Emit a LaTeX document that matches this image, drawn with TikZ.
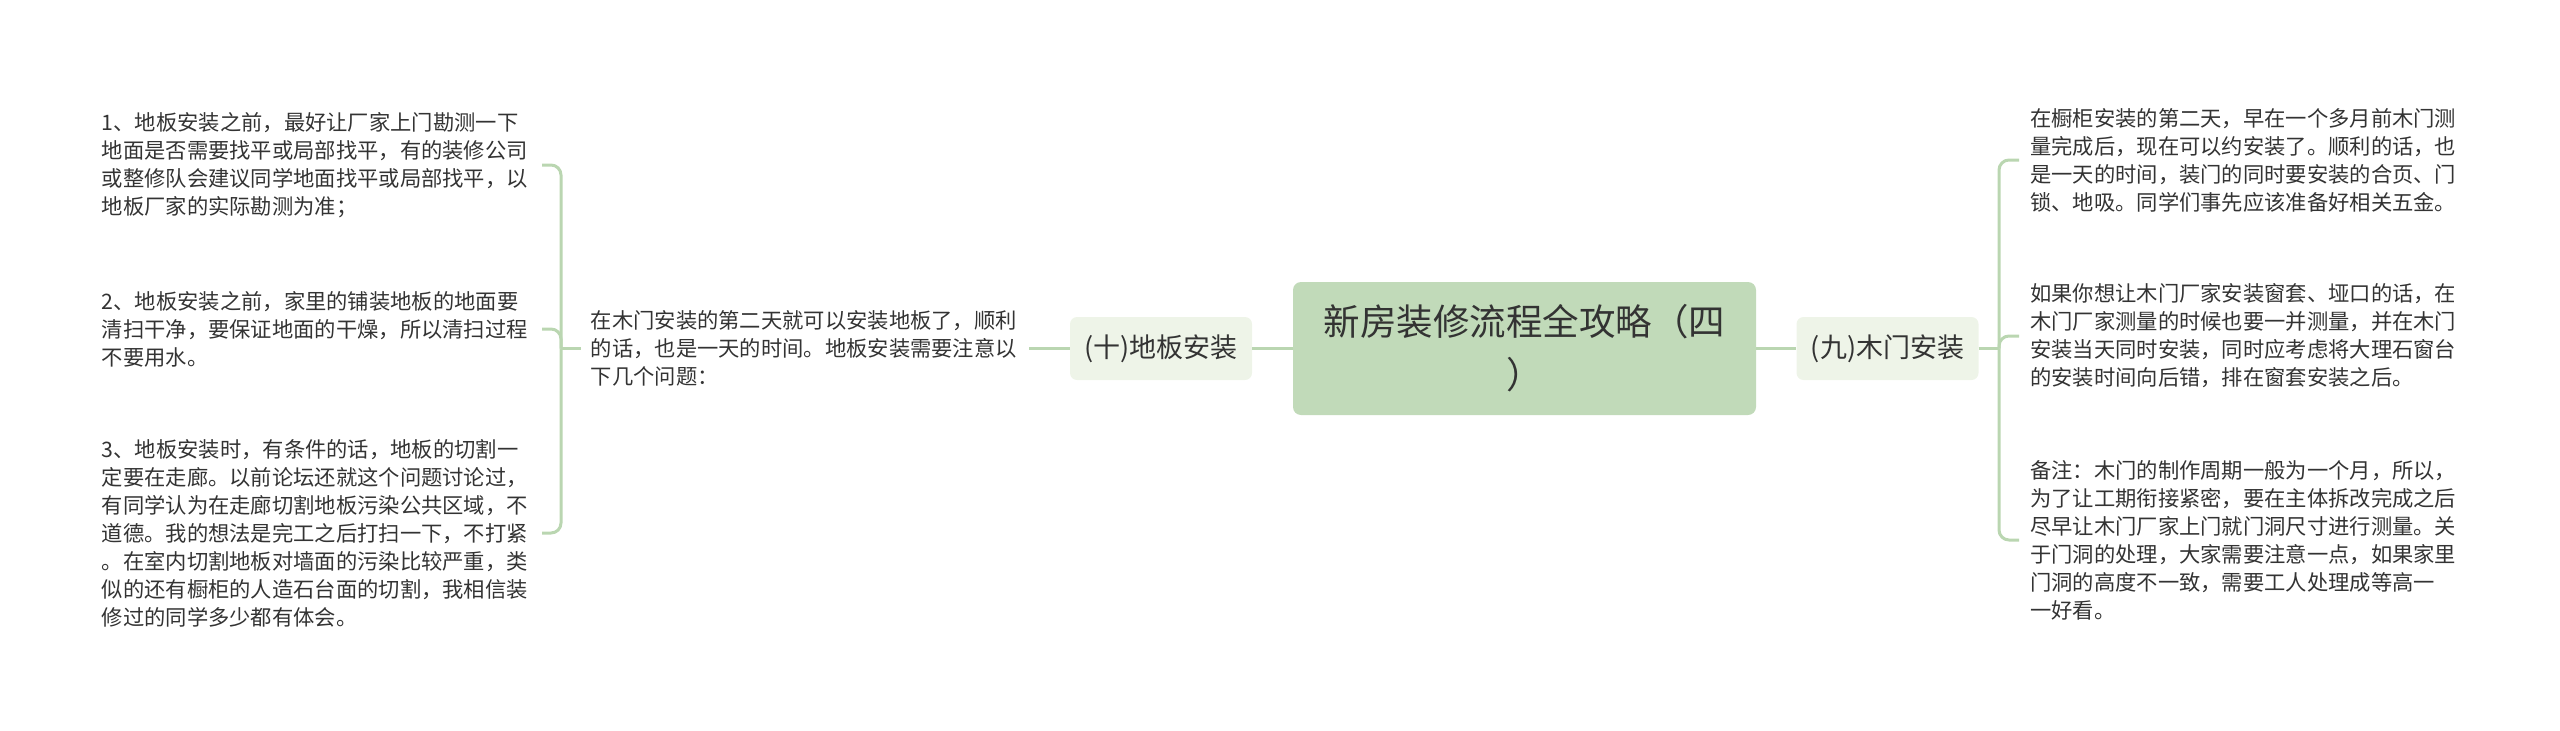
\documentclass[tikz,border=0pt]{standalone}
\usepackage{fontspec}
\setmainfont{Noto Sans CJK SC}
\definecolor{linec}{HTML}{BAD6B1}
\definecolor{rootfill}{HTML}{C1DAB9}
\definecolor{subfill}{HTML}{EEF4E8}
\definecolor{textc}{HTML}{333333}
\tikzset{
  conn/.style={draw=linec, line width=3pt},
  branchline/.style={conn, rounded corners=10pt},
  rootbox/.style={fill=rootfill, rounded corners=8pt, minimum width=463pt, minimum height=133pt,
    inner sep=0pt, align=center, text=textc, font=\fontsize{36.5}{53}\selectfont},
  subbox/.style={fill=subfill, rounded corners=7pt, minimum width=182pt, minimum height=63pt,
    inner sep=0pt, text=textc, font=\fontsize{27}{32}\selectfont},
  leaf/.style={text width=430pt, align=left, inner xsep=10pt, inner ysep=3pt, text=textc,
    font=\fontsize{21.3}{28}\selectfont},
}
\begin{document}
\begin{tikzpicture}[x=1pt,y=-1pt]
\useasboundingbox (0,0) rectangle (2560,731);
% root and main branches
\node[rootbox] (root) at (1524.5,348.5) {新房装修流程全攻略（四\\）};
\node[subbox] (c9) at (1887.5,348.5) {(九)木门安装};
\node[subbox] (c10) at (1161,348.5) {(十)地板安装};
% middle text of left branch
\node[leaf, text width=428pt, anchor=east] (mid) at (1029,348.5)
  {在木门安装的第二天就可以安装地板了，顺利\\的话，也是一天的时间。地板安装需要注意以\\下几个问题：};
% left leaves
\node[leaf, anchor=east] (l1) at (542,165)
  {1、地板安装之前，最好让厂家上门勘测一下\\地面是否需要找平或局部找平，有的装修公司\\或整修队会建议同学地面找平或局部找平，以\\地板厂家的实际勘测为准；};
\node[leaf, anchor=east] (l2) at (542,329)
  {2、地板安装之前，家里的铺装地板的地面要\\清扫干净，要保证地面的干燥，所以清扫过程\\不要用水。};
\node[leaf, anchor=east] (l3) at (542,533)
  {3、地板安装时，有条件的话，地板的切割一\\定要在走廊。以前论坛还就这个问题讨论过，\\有同学认为在走廊切割地板污染公共区域，不\\道德。我的想法是完工之后打扫一下，不打紧\\。在室内切割地板对墙面的污染比较严重，类\\似的还有橱柜的人造石台面的切割，我相信装\\修过的同学多少都有体会。};
% right leaves
\node[leaf, inner xsep=11pt, anchor=west] (r1) at (2019,160)
  {在橱柜安装的第二天，早在一个多月前木门测\\量完成后，现在可以约安装了。顺利的话，也\\是一天的时间，装门的同时要安装的合页、门\\锁、地吸。同学们事先应该准备好相关五金。};
\node[leaf, inner xsep=11pt, anchor=west] (r2) at (2019,336)
  {如果你想让木门厂家安装窗套、垭口的话，在\\木门厂家测量的时候也要一并测量，并在木门\\安装当天同时安装，同时应考虑将大理石窗台\\的安装时间向后错，排在窗套安装之后。};
\node[leaf, inner xsep=11pt, anchor=west] (r3) at (2019,540)
  {备注：木门的制作周期一般为一个月，所以，\\为了让工期衔接紧密，要在主体拆改完成之后\\尽早让木门厂家上门就门洞尺寸进行测量。关\\于门洞的处理，大家需要注意一点，如果家里\\门洞的高度不一致，需要工人处理成等高一\\一好看。};
% junctions
\coordinate (lj) at (561,348.5);
\coordinate (rj) at (1999,348.5);
% connectors
\draw[conn] (root.east) -- (c9.west);
\draw[conn] (root.west) -- (c10.east);
\draw[conn] (c10.west) -- (mid.east);
\draw[conn] (mid.west) -- (lj);
\draw[conn] (c9.east) -- (rj);
\draw[branchline] (lj) |- (l1.east);
\draw[branchline] (lj) |- (l2.east);
\draw[branchline] (lj) |- (l3.east);
\draw[branchline] (rj) |- (r1.west);
\draw[branchline] (rj) |- (r2.west);
\draw[branchline] (rj) |- (r3.west);
\end{tikzpicture}
\end{document}
